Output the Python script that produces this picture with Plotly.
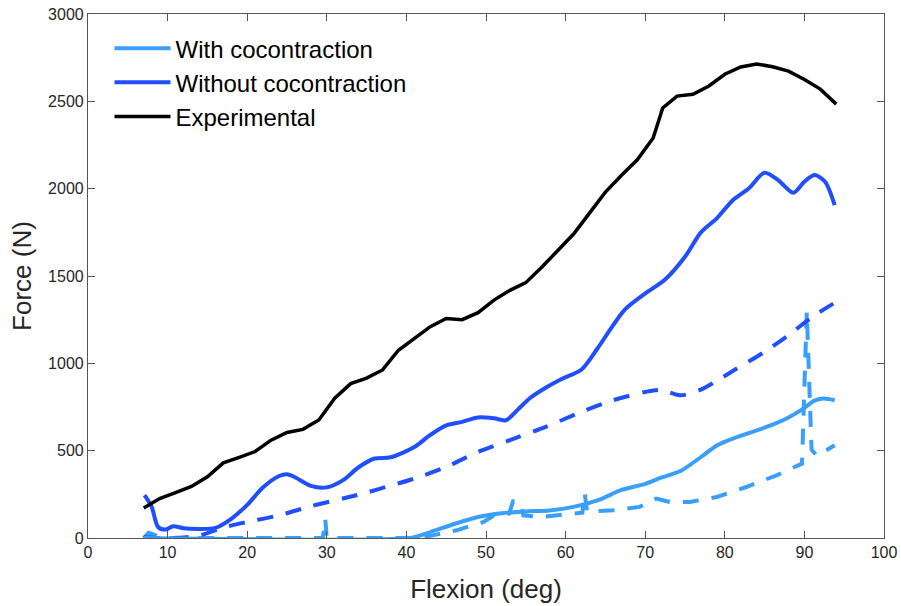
import plotly.graph_objects as go

# Experimental (black)
exp_x = [7, 9, 11, 13, 15, 17, 19, 21, 23, 25, 27, 29, 31, 33, 35, 37, 39, 41, 43, 45, 47, 49,
         51, 53, 55, 57, 59, 61, 63, 65, 67, 69, 71, 72.2, 74, 76, 78, 80, 82, 84, 86, 88, 90, 92, 94]
exp_y = [172, 226, 260, 295, 350, 430, 462, 495, 560, 604, 622, 676, 800, 884, 915, 962, 1075, 1140,
         1210, 1257, 1250, 1290, 1362, 1418, 1462, 1550, 1645, 1740, 1860, 1980, 2075, 2165, 2290,
         2462, 2530, 2540, 2588, 2655, 2697, 2714, 2698, 2673, 2625, 2570, 2484]

# Without cocontraction, solid
wo_x = [7.1, 8.0, 8.8, 9.7, 10.7, 12.0, 14, 16, 18, 20, 22, 24, 25, 26, 28, 30, 32, 34, 36, 38,
        41, 43, 45, 47, 49, 51, 52.5, 54, 55.5, 57.5, 59.5, 62, 64, 66, 67.5, 70, 72.5, 75, 77,
        79, 81, 83, 85, 86.7, 88.6, 90, 91.3, 92.6, 93.8]
wo_y = [245, 178, 63, 48, 67, 56, 52, 58, 110, 190, 290, 355, 365, 348, 298, 290, 330, 405, 455,
        462, 521, 590, 645, 665, 690, 685, 674, 735, 800, 860, 910, 965, 1085, 1220, 1310, 1400,
        1480, 1610, 1750, 1830, 1934, 2001, 2091, 2049, 1976, 2040, 2078, 2039, 1906]

# Without cocontraction, dashed
wod_x = [7, 9, 12, 13.5, 15, 17, 20, 24, 28, 32, 35, 38, 41, 45, 49, 53, 57.5, 62, 66, 70, 72,
         74.5, 77, 79, 81.5, 85, 88, 91, 94]
wod_y = [5, 0, 3, 10, 28, 60, 92, 130, 182, 226, 260, 300, 340, 407, 493, 560, 636, 722, 789,
         836, 848, 817, 850, 900, 970, 1066, 1161, 1266, 1352]

# With cocontraction, solid
wi_x = [7, 40.5, 43, 46, 49, 52, 55, 58, 61, 64, 67, 70, 72, 74.5, 77.5, 79, 81, 83, 85.5, 88,
        90, 91.2, 92.4, 93.8]
wi_y = [0, 0, 34, 80, 120, 142, 152, 158, 178, 215, 275, 310, 345, 385, 480, 530, 569, 600, 640,
        690, 745, 785, 798, 789]

# With cocontraction, dashed
wid_x = [7, 7.6, 8.3, 9, 29.5, 29.8, 30.0, 41.5, 43.3, 46.3, 49.7, 51, 52.9, 53.4, 54.2, 54.7,
         56.8, 58.9, 62.1, 62.4, 62.7, 64, 66, 69.3, 71.4, 73.1, 75.6, 79, 82.7, 86.5, 88, 89.7,
         90.3, 90.7, 90.9, 91.6, 93.8]
wid_y = [0, 30, 20, 0, 0, 110, 0, 0, 15, 44, 92, 130, 140, 210, 210, 130, 120, 130, 145, 258,
         150, 155, 159, 178, 226, 206, 206, 235, 292, 359, 388, 426, 1295, 660, 505, 470, 531]

LIGHT = '#3A9EFB'
DARK = '#1F4FFF'
DASH = '16px,13px'

fig = go.Figure()
fig.add_trace(go.Scatter(x=wid_x, y=wid_y, mode='lines', showlegend=False,
                         line=dict(color=LIGHT, width=4, dash=DASH)))
fig.add_trace(go.Scatter(x=wod_x, y=wod_y, mode='lines', showlegend=False,
                         line=dict(color=DARK, width=4, dash=DASH, shape='spline', smoothing=0.8)))
fig.add_trace(go.Scatter(x=wi_x, y=wi_y, mode='lines', name='With cocontraction',
                         line=dict(color=LIGHT, width=4, shape='spline', smoothing=0.6)))
fig.add_trace(go.Scatter(x=wo_x, y=wo_y, mode='lines', name='Without cocontraction',
                         line=dict(color=DARK, width=4, shape='spline', smoothing=0.8)))
fig.add_trace(go.Scatter(x=exp_x, y=exp_y, mode='lines', name='Experimental',
                         line=dict(color='black', width=3.5)))

axis_common = dict(showline=True, linecolor='#555555', linewidth=1.2, mirror='ticks',
                   ticks='inside', ticklen=7, tickcolor='#555555', showgrid=False,
                   zeroline=False, automargin=False, ticklabeloverflow='allow',
                   tickfont=dict(family='Liberation Sans, Arial', size=16, color='#262626'))

fig.update_layout(
    width=901, height=606,
    margin=dict(l=88, r=17, t=14, b=68),
    paper_bgcolor='white', plot_bgcolor='white',
    font=dict(family='Liberation Sans, Arial', color='#262626'),
    xaxis=dict(range=[0, 100], dtick=10, tick0=0,
               title=dict(text='Flexion (deg)', font=dict(size=26), standoff=19),
               **axis_common),
    yaxis=dict(range=[0, 3000], dtick=500, tick0=0,
               title=dict(text='Force (N)', font=dict(size=26), standoff=9),
               **axis_common),
    legend=dict(x=0.027, y=0.977, xanchor='left', yanchor='top', bgcolor='rgba(0,0,0,0)',
                font=dict(size=24, color='black'), itemwidth=56, tracegroupgap=0),
)

fig.write_html('out.html', config={'displayModeBar': False},
               post_script="document.body.style.margin='0';document.body.style.overflow='hidden';")
